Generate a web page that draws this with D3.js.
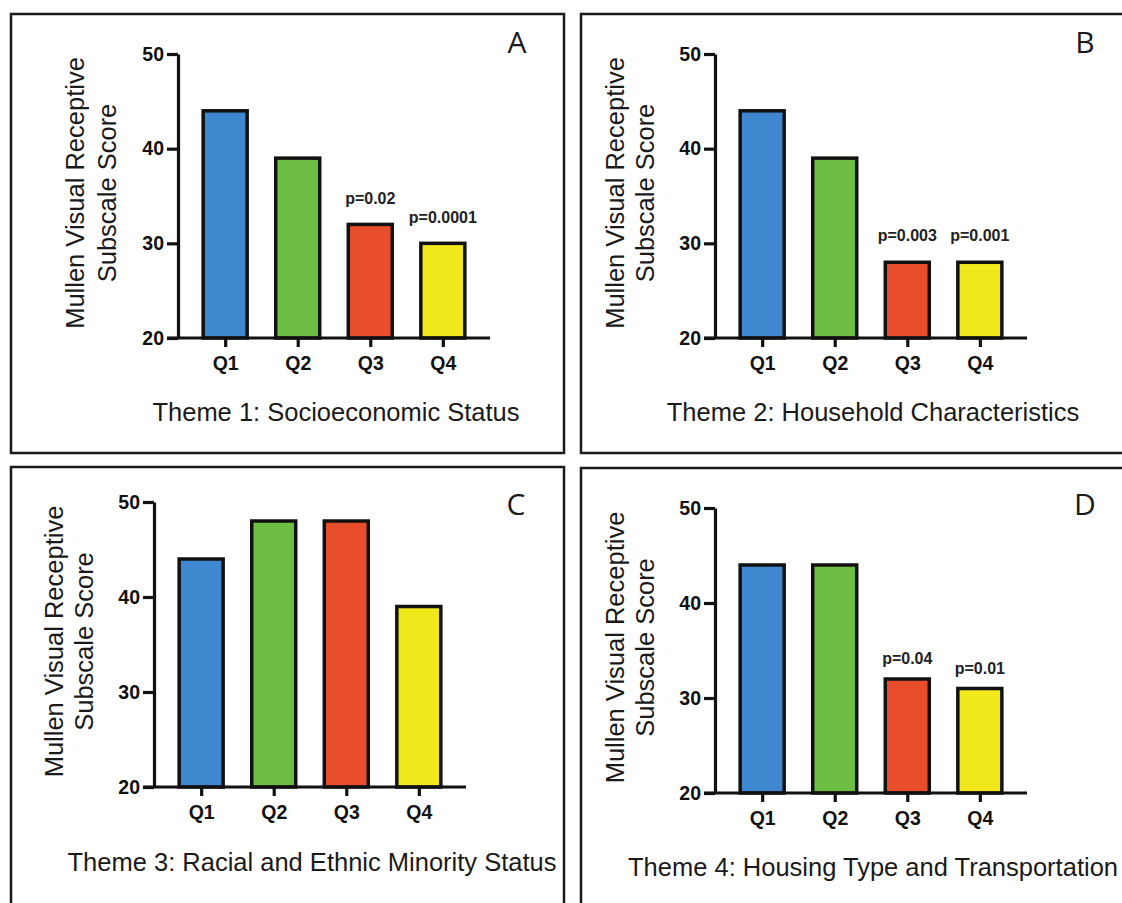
<!DOCTYPE html>
<html>
<head>
<meta charset="utf-8">
<script src="https://cdn.jsdelivr.net/npm/d3@7"></script>
<style>
  body { margin: 0; background: #fff; }
  text { font-family: "Liberation Sans", Arial, sans-serif; }
</style>
</head>
<body>
<svg id="chart" width="1122" height="903"></svg>
<script>
// data
const quartiles = ["Q1", "Q2", "Q3", "Q4"];
const yTicks = [20, 30, 40, 50];
const barColors = ["#3f87cf", "#6fbe44", "#e84e2b", "#f1e81c"];

const theme1Scores = [44, 39, 32, 30];
const theme2Scores = [44, 39, 28, 28];
const theme3Scores = [44, 48, 48, 39];
const theme4Scores = [44, 44, 32, 31];

const theme1P = ["", "", "p=0.02", "p=0.0001"];
const theme2P = ["", "", "p=0.003", "p=0.001"];
const theme3P = ["", "", "", ""];
const theme4P = ["", "", "p=0.04", "p=0.01"];

const themeTitles = [
  "Theme 1: Socioeconomic Status",
  "Theme 2: Household Characteristics",
  "Theme 3: Racial and Ethnic Minority Status",
  "Theme 4: Housing Type and Transportation"
];
const panelLetters = ["A", "B", "C", "D"];
const yLabelLines = ["Mullen Visual Receptive", "Subscale Score"];

// layout of each panel (box, axes, label positions)
const panels = [
  {box: [11, 14, 553, 439], x0: 178, top: 54, bottom: 338, lab: [75, 107], letter: [517, 53], title: 421, pOff: 20, scores: theme1Scores, p: theme1P},
  {box: [581, 14, 560, 439], x0: 715, top: 54, bottom: 338, lab: [615, 645], letter: [1085, 53], title: 421, pOff: 21, scores: theme2Scores, p: theme2P},
  {box: [11, 467, 553, 460], x0: 154, top: 502, bottom: 787, lab: [54, 84], letter: [516, 515], title: 871, pOff: 18, scores: theme3Scores, p: theme3P},
  {box: [581, 468, 560, 460], x0: 715, top: 508, bottom: 793, lab: [615, 645], letter: [1085, 515], title: 876, pOff: 15, scores: theme4Scores, p: theme4P}
];

const svg = d3.select("#chart");
const plotW = 312, barW = 44;

panels.forEach((pn, k) => {
  const g = svg.append("g");

  // frame
  g.append("rect")
    .attr("x", pn.box[0]).attr("y", pn.box[1])
    .attr("width", pn.box[2]).attr("height", pn.box[3])
    .attr("fill", "none").attr("stroke", "#1a1a1a").attr("stroke-width", 2.5);

  const x = d3.scalePoint().domain(quartiles).range([pn.x0, pn.x0 + plotW]).padding(0.65);
  const y = d3.scaleLinear().domain([20, 50]).range([pn.bottom, pn.top]);

  // bars
  g.selectAll(".bar").data(pn.scores).enter()
    .append("rect")
    .attr("class", "bar")
    .attr("x", (d, i) => x(quartiles[i]) - barW / 2)
    .attr("y", d => y(d))
    .attr("width", barW)
    .attr("height", d => y(20) - y(d))
    .attr("fill", (d, i) => barColors[i])
    .attr("stroke", "#111").attr("stroke-width", 3.5);

  // p values
  g.selectAll(".pval").data(pn.p).enter()
    .append("text")
    .attr("class", "pval")
    .attr("x", (d, i) => x(quartiles[i]))
    .attr("y", (d, i) => y(pn.scores[i]) - pn.pOff)
    .attr("text-anchor", "middle")
    .attr("font-size", "16px").attr("font-weight", "bold").attr("fill", "#222")
    .text(d => d);

  // y axis
  const ya = g.append("g")
    .attr("transform", `translate(${pn.x0},0)`)
    .call(d3.axisLeft(y).tickValues(yTicks).tickSize(11).tickSizeOuter(0).tickPadding(3));
  ya.select(".domain").attr("stroke", "#111").attr("stroke-width", 3.2);
  ya.selectAll(".tick line").attr("stroke", "#111").attr("stroke-width", 3.2);
  ya.selectAll(".tick text").attr("font-size", "19.5px").attr("font-weight", "bold")
    .attr("fill", "#111").attr("font-family", "Liberation Sans, Arial, sans-serif");

  // x axis
  const xa = g.append("g")
    .attr("transform", `translate(0,${pn.bottom})`)
    .call(d3.axisBottom(x).tickSize(9).tickSizeOuter(0).tickPadding(9));
  xa.select(".domain").attr("stroke", "#111").attr("stroke-width", 3.2)
    .attr("d", `M${pn.x0 - 11},0H${pn.x0 + plotW}`);
  xa.selectAll(".tick line").attr("stroke", "#111").attr("stroke-width", 3.2);
  xa.selectAll(".tick text").attr("font-size", "19.5px").attr("font-weight", "bold")
    .attr("fill", "#111").attr("font-family", "Liberation Sans, Arial, sans-serif");

  // y label, two lines
  const cy = (pn.top + pn.bottom) / 2 - 3;
  yLabelLines.forEach((t, j) => {
    g.append("text")
      .attr("transform", `translate(${pn.lab[j] + 9},${cy}) rotate(-90)`)
      .attr("text-anchor", "middle")
      .attr("font-size", "25.5px").attr("fill", "#1a1a1a")
      .text(t);
  });

  // theme title
  g.append("text")
    .attr("x", pn.x0 + plotW / 2 + 2).attr("y", pn.title)
    .attr("text-anchor", "middle")
    .attr("font-size", "25.5px").attr("fill", "#1a1a1a")
    .text(themeTitles[k]);

  // panel letter
  g.append("text")
    .attr("x", pn.letter[0]).attr("y", pn.letter[1])
    .attr("text-anchor", "middle")
    .attr("font-size", "30px").attr("fill", "#1a1a1a")
    .style("font-family", "'Open Sans', sans-serif")
    .text(panelLetters[k]);
});
</script>
</body>
</html>
